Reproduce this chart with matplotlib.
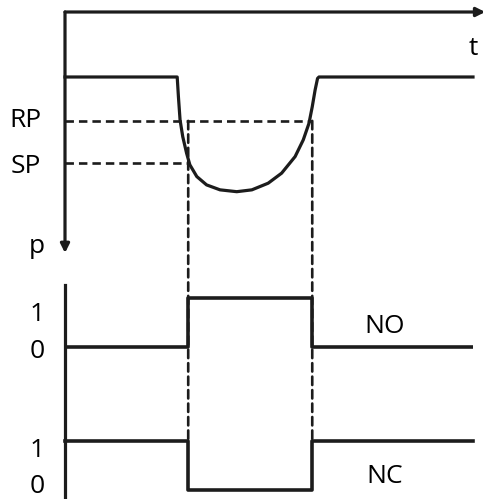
import matplotlib
matplotlib.use("Agg")
import matplotlib.pyplot as plt
from matplotlib.patches import ConnectionPatch

plt.rcParams['font.family'] = ['Open Sans', 'DejaVu Sans']

# pressure trace (time in arbitrary units 0..100)
t_pressure = [0, 27.5, 27.8, 28.2, 28.85, 29.8, 30.6, 32.3, 34.7, 38.0,
              42.1, 45.8, 49.8, 53.1, 56.4, 58.4, 59.8, 60.6, 61.3, 61.9,
              62.25, 100]
p_pressure = [8.1, 8.1, 6.7, 5.07, 3.9, 2.72, 1.9, 1.07, 0.48, 0.13,
              0.0, 0.13, 0.6, 1.31, 2.48, 3.66, 4.83, 6.0, 7.18, 8.0,
              8.1, 8.1]
rp_level = 5.0
sp_level = 2.0
t_on = 30.2    # SP crossing, contact switches
t_off = 60.6   # RP crossing, contact switches back

# switch states
t_switch = [0, t_on, t_off, 100]
no_state = [0, 1, 0, 0]
nc_state = [1, 0, 1, 1]
no_base = 2.95  # vertical offset of the NO trace in the lower panel

ink = '#1c1c1c'
lw_main = 2.3
lw_dash = 1.9
dash = (0, (3.2, 1.9))
fs = 19

fig = plt.figure(figsize=(4.83, 4.99), dpi=100)
W, H = 483, 499
x0, x1 = 65, 473

ax = fig.add_axes([x0 / W, 1 - 253 / H, (x1 - x0) / W, (253 - 12) / H])
ax.set_xlim(0, 100)
ax.set_ylim(-4.33, 12.69)
ax.axis('off')

axb = fig.add_axes([x0 / W, 0, (x1 - x0) / W, (499 - 285) / H])
axb.set_xlim(0, 100)
axb.set_ylim(-0.186, 4.227)
for s in ['top', 'right', 'bottom']:
    axb.spines[s].set_visible(False)
axb.spines['left'].set_linewidth(lw_main)
axb.spines['left'].set_color(ink)
axb.set_xticks([])
axb.set_yticks([])
axb.patch.set_alpha(0)

# axes arrows of the upper panel
arrow = dict(arrowstyle='-|>', lw=lw_main, color=ink, mutation_scale=13,
             shrinkA=0, shrinkB=0)
ax.annotate('', xy=(1.03, 1), xytext=(0, 1), xycoords='axes fraction',
            arrowprops=arrow)
ax.annotate('', xy=(0, 0), xytext=(0, 1), xycoords='axes fraction',
            arrowprops=arrow)

# pressure curve and thresholds
ax.plot(t_pressure, p_pressure, color=ink, lw=lw_main, solid_joinstyle='round',
        clip_on=False)
ax.plot([0, t_off], [rp_level, rp_level], color=ink, lw=lw_dash, ls=dash)
ax.plot([0, t_on], [sp_level, sp_level], color=ink, lw=lw_dash, ls=dash)

# vertical guides down to the NC trace
for t in (t_on, t_off):
    con = ConnectionPatch(xyA=(t, rp_level), coordsA=ax.transData,
                          xyB=(t, 1), coordsB=axb.transData,
                          color=ink, lw=lw_dash, ls=dash)
    fig.add_artist(con)

# switch traces
axb.plot(t_switch, [v + no_base for v in no_state], drawstyle='steps-post',
         color=ink, lw=lw_main + 0.3)
axb.plot(t_switch, nc_state, drawstyle='steps-post', color=ink,
         lw=lw_main + 0.3, clip_on=False)

# labels
ax.text(-9.7, 4.57, 'RP', fontsize=fs, ha='center', va='baseline')
ax.text(-9.7, 1.33, 'SP', fontsize=fs, ha='center', va='baseline')
ax.text(-6.9, -4.33, 'p', fontsize=fs, ha='center', va='baseline')
ax.text(100.1, 9.65, 't', fontsize=fs, ha='center', va='baseline',
        clip_on=False)

axb.text(-6.9, 3.48, '1', fontsize=fs, ha='center', va='baseline')
axb.text(-6.9, 2.72, '0', fontsize=fs, ha='center', va='baseline')
axb.text(-6.9, 0.68, '1', fontsize=fs, ha='center', va='baseline')
axb.text(-6.9, -0.06, '0', fontsize=fs, ha='center', va='baseline')
axb.text(78.4, 3.24, 'NO', fontsize=fs, ha='center', va='baseline')
axb.text(78.4, 0.144, 'NC', fontsize=fs, ha='center', va='baseline')

fig.savefig('out.png', dpi=100)
